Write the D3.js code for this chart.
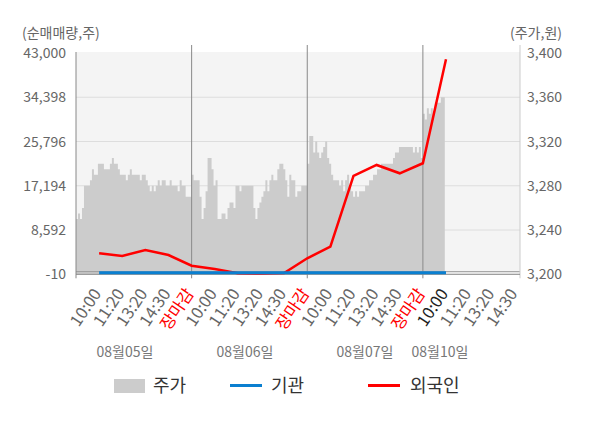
<!DOCTYPE html>
<html>
<head>
<meta charset="utf-8">
<script src="https://cdn.jsdelivr.net/npm/d3@7"></script>
<style>
  body { margin: 0; background: #fff; }
  svg { font-family: "Noto Sans CJK KR", "Noto Sans", sans-serif; }
</style>
</head>
<body>
<svg width="600" height="428"></svg>
<script>
// x ticks: 5 per trading day, the last day is still open
const timeLabels = ["10:00", "11:20", "13:20", "14:30", "장마감",
  "10:00", "11:20", "13:20", "14:30", "장마감",
  "10:00", "11:20", "13:20", "14:30", "장마감",
  "10:00", "11:20", "13:20", "14:30"];
const dates = ["08월05일", "08월06일", "08월07일", "08월10일"];

const leftTicks = [-10, 8592, 17194, 25796, 34398, 43000];
const rightTicks = [3200, 3240, 3280, 3320, 3360, 3400];

// 주가 (price) per day
const price0805 = [3250, 3255, 3250, 3260, 3280, 3280, 3280, 3285, 3295, 3290, 3290, 3300, 3300, 3300, 3295,
  3295, 3295, 3300, 3305, 3300, 3300, 3295, 3290, 3290, 3290, 3285, 3290, 3295, 3290, 3290, 3290, 3290,
  3285, 3290, 3290, 3285, 3280, 3275, 3280, 3275, 3280, 3285, 3280, 3285, 3285, 3280, 3280, 3285, 3280,
  3280, 3280, 3275, 3285, 3280, 3280, 3270, 3270, 3270];
const price0806 = [3290, 3285, 3285, 3285, 3270, 3250, 3260, 3275, 3305, 3305, 3295, 3280, 3285, 3250, 3250,
  3255, 3255, 3250, 3260, 3265, 3265, 3260, 3280, 3280, 3275, 3280, 3280, 3280, 3280, 3280, 3280, 3260,
  3250, 3260, 3265, 3270, 3275, 3285, 3275, 3285, 3290, 3285, 3285, 3295, 3300, 3300, 3295, 3285, 3270,
  3290, 3285, 3285, 3270, 3275, 3275, 3280, 3280, 3280];
const price0807 = [3300, 3325, 3325, 3310, 3320, 3310, 3305, 3310, 3315, 3320, 3305, 3300, 3290, 3285, 3285,
  3285, 3280, 3285, 3275, 3285, 3290, 3280, 3275, 3270, 3275, 3270, 3275, 3275, 3275, 3280, 3280, 3285,
  3285, 3290, 3290, 3295, 3295, 3300, 3300, 3300, 3300, 3300, 3300, 3305, 3310, 3310, 3315, 3315, 3315,
  3315, 3315, 3315, 3315, 3310, 3315, 3310, 3315, 3305];
const price0810 = [3345, 3340, 3350, 3345, 3350, 3345, 3355, 3355, 3355, 3360, 3360];
const prices = [price0805, price0806, price0807, price0810];

// 순매매량 at each tick (k = 0..15)
const foreign = [4070, 3550, 4720, 3740, 1660, 1020, 200, 150, 250, 3100, 5360, 19100, 21240, 19620, 21570, 41790];
const institution = [300, 300, 300, 300, 300, 300, 300, 300, 300, 300, 300, 300, 300, 300, 300, 300];

const legendItems = ["주가", "기관", "외국인"];

// layout
const L = 76, R = 520, T = 53, B = 274.3;
const perDay = 5, samplesPerDay = 58;
const dateX = [125, 245, 365, 440];
const COL_AREA = "#cccccc", COL_INST = "#0a7fd0", COL_FOR = "#ff0000";

const svg = d3.select("svg");

const x = d3.scaleLinear().domain([-1, 18.2]).range([L, R]);
const yL = d3.scaleLinear().domain([-10, 43000]).range([B, T]);
const yR = d3.scaleLinear().domain([3200, 3400]).range([B, T]);
const fmt = v => d3.format(",")(v).replace("\u2212", "-");

// plot background
svg.append("rect")
  .attr("x", L).attr("y", T - 1)
  .attr("width", R - L).attr("height", B - T + 1)
  .attr("fill", "#f4f4f4");

// horizontal grid
svg.append("g").selectAll("line")
  .data(leftTicks.slice(1, -1))
  .enter().append("line")
  .attr("x1", L).attr("x2", R)
  .attr("y1", d => yL(d)).attr("y2", d => yL(d))
  .attr("stroke", "#dddddd");

// price area (step)
const pricePts = [];
prices.forEach((day, d) => {
  day.forEach((p, i) => {
    pricePts.push({ k: perDay * d - 1 + i * perDay / samplesPerDay, p: p, day: d });
  });
});
const byDay = d3.groups(pricePts, p => p.day).map(g => g[1]);
byDay.forEach(pts => {
  const last = pts[pts.length - 1];
  const closed = pts.concat([{ k: last.k + perDay / samplesPerDay, p: last.p }]);
  svg.append("path")
    .datum(closed)
    .attr("fill", COL_AREA)
    .attr("d", d3.area().curve(d3.curveStepAfter)
      .x(d => x(d.k)).y0(B).y1(d => yR(d.p)));
});

// thin base line
svg.append("line")
  .attr("x1", L).attr("x2", R)
  .attr("y1", yL(500)).attr("y2", yL(500))
  .attr("stroke", "#999").attr("stroke-width", 1);

// day separators
const sepK = [4, 9, 14];
svg.append("g").selectAll("line")
  .data(sepK).enter().append("line")
  .attr("x1", d => x(d)).attr("x2", d => x(d))
  .attr("y1", T - 8).attr("y2", B + 4)
  .attr("stroke", "#888");

// axes frame
svg.append("line").attr("x1", L).attr("x2", L).attr("y1", T - 1).attr("y2", B + 4).attr("stroke", "#888");
svg.append("line").attr("x1", R).attr("x2", R).attr("y1", T - 8).attr("y2", B + 4).attr("stroke", "#ccc");
svg.append("line").attr("x1", L).attr("x2", R).attr("y1", B).attr("y2", B).attr("stroke", "#888");

// series lines
const lineGen = d3.line().x((d, i) => x(i)).y(d => yL(d));
svg.append("path").datum(foreign)
  .attr("fill", "none").attr("stroke", COL_FOR).attr("stroke-width", 2.5)
  .attr("d", lineGen);
svg.append("path").datum(institution)
  .attr("fill", "none").attr("stroke", COL_INST).attr("stroke-width", 3)
  .attr("d", lineGen);

// left axis labels
svg.append("g").selectAll("text")
  .data(leftTicks).enter().append("text")
  .attr("x", 66).attr("y", d => yL(d)).attr("dy", "0.36em")
  .attr("text-anchor", "end").attr("fill", "#666").style("font-size", "14px")
  .text(d => fmt(d));

// right axis labels
svg.append("g").selectAll("text")
  .data(rightTicks).enter().append("text")
  .attr("x", 527).attr("y", d => yR(d)).attr("dy", "0.36em")
  .attr("text-anchor", "start").attr("fill", "#666").style("font-size", "14px")
  .text(d => fmt(d));

svg.append("text").attr("x", 22).attr("y", 38)
  .attr("fill", "#666").style("font-size", "14px").text("(순매매량,주)");
svg.append("text").attr("x", 562).attr("y", 38).attr("text-anchor", "end")
  .attr("fill", "#666").style("font-size", "14px").text("(주가,원)");

// rotated time labels
svg.append("g").selectAll("text")
  .data(timeLabels).enter().append("text")
  .attr("transform", (d, i) => "translate(" + (x(i) - 2) + "," + (B + 16) + ") rotate(-56)")
  .attr("text-anchor", "end").attr("dy", "0.35em")
  .attr("fill", (d, i) => d == "장마감" ? "#ff0000" : (i == 15 ? "#222" : "#666"))
  .style("font-size", "16.5px")
  .text(d => d);

// date labels
svg.append("g").selectAll("text")
  .data(dates).enter().append("text")
  .attr("x", (d, i) => dateX[i]).attr("y", 357)
  .attr("text-anchor", "middle").attr("fill", "#777").style("font-size", "14px")
  .text(d => d);

// legend
const lg = svg.append("g");
lg.append("rect").attr("x", 114).attr("y", 379).attr("width", 31).attr("height", 14).attr("fill", COL_AREA);
lg.append("line").attr("x1", 230).attr("x2", 262).attr("y1", 385.5).attr("y2", 385.5)
  .attr("stroke", COL_INST).attr("stroke-width", 3);
lg.append("line").attr("x1", 368).attr("x2", 400).attr("y1", 385.5).attr("y2", 385.5)
  .attr("stroke", COL_FOR).attr("stroke-width", 3);
const legendX = [153, 271, 410];
lg.selectAll("text").data(legendItems).enter().append("text")
  .attr("x", (d, i) => legendX[i]).attr("y", 392)
  .attr("fill", "#333").style("font-size", "18px")
  .text(d => d);
</script>
</body>
</html>
